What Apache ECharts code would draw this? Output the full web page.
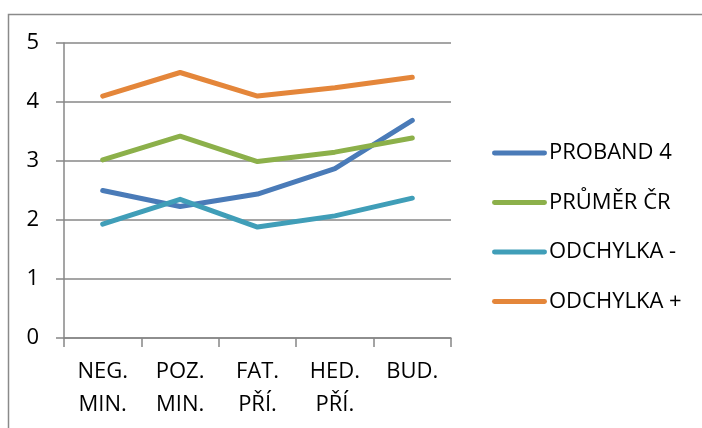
<!DOCTYPE html>
<html>
<head>
<meta charset="utf-8">
<script src="https://cdn.jsdelivr.net/npm/echarts@6/dist/echarts.min.js"></script>
<style>
  html, body { margin: 0; padding: 0; background: #fff; }
  #chart { width: 702px; height: 428px; }
</style>
</head>
<body>
<div id="chart"></div>
<script>
const categories = ['NEG.\nMIN.', 'POZ.\nMIN.', 'FAT.\nPŘÍ.', 'HED.\nPŘÍ.', 'BUD.']
const proband4 = [2.50, 2.23, 2.44, 2.87, 3.69]
const prumerCR = [3.02, 3.42, 2.99, 3.15, 3.39]
const odchylkaMinus = [1.93, 2.35, 1.88, 2.07, 2.37]
const odchylkaPlus = [4.10, 4.50, 4.10, 4.24, 4.42]

const font = "'Open Sans', 'Noto Sans', sans-serif"
const gridColor = '#878787'

function line(name, data, color) {
  return {
    name,
    type: 'line',
    data,
    symbol: 'none',
    lineStyle: { width: 5, color, cap: 'round', join: 'round' },
    itemStyle: { color },
  }
}

const chart = echarts.init(document.getElementById('chart'))
chart.setOption({
  backgroundColor: '#fff',
  animation: false,
  textStyle: { fontFamily: font },
  graphic: [
    {
      type: 'rect',
      shape: { x: 8.5, y: 14.5, width: 800, height: 600 },
      style: { fill: 'none', stroke: '#8a8a8a', lineWidth: 1.5 },
      silent: true,
    },
  ],
  grid: { left: 64, right: 251, top: 43, bottom: 90, containLabel: false },
  legend: {
    orient: 'vertical',
    left: 487,
    top: 137,
    itemWidth: 55,
    itemHeight: 14,
    itemGap: 27.5,
    icon: 'path://M2,4.5 L53,4.5 A2.5,2.5 0 0 1 53,9.5 L2,9.5 A2.5,2.5 0 0 1 2,4.5 Z',
    textStyle: { fontSize: 22, color: '#000', fontFamily: font, padding: [0, 0, 0, -3] },
    data: ['PROBAND 4', 'PRŮMĚR ČR', 'ODCHYLKA -', 'ODCHYLKA +'],
  },
  xAxis: {
    type: 'category',
    data: categories,
    boundaryGap: true,
    axisLine: { lineStyle: { color: gridColor, width: 1.5 } },
    axisTick: { show: true, length: 9, lineStyle: { color: gridColor, width: 1.5 } },
    axisLabel: { color: '#000', fontSize: 22, lineHeight: 33, margin: 17, fontFamily: font },
  },
  yAxis: {
    type: 'value',
    min: 0,
    max: 5,
    interval: 1,
    axisLine: { show: true, lineStyle: { color: gridColor, width: 1.5 } },
    axisTick: { show: true, length: 8, lineStyle: { color: gridColor, width: 1.5 } },
    axisLabel: { color: '#000', fontSize: 22, margin: 25, fontFamily: font },
    splitLine: { lineStyle: { color: gridColor, width: 1.5 } },
  },
  series: [
    line('PROBAND 4', proband4, '#4A7BB8'),
    line('PRŮMĚR ČR', prumerCR, '#8CB04A'),
    line('ODCHYLKA -', odchylkaMinus, '#409EB8'),
    line('ODCHYLKA +', odchylkaPlus, '#E4863A'),
  ],
})
</script>
</body>
</html>
